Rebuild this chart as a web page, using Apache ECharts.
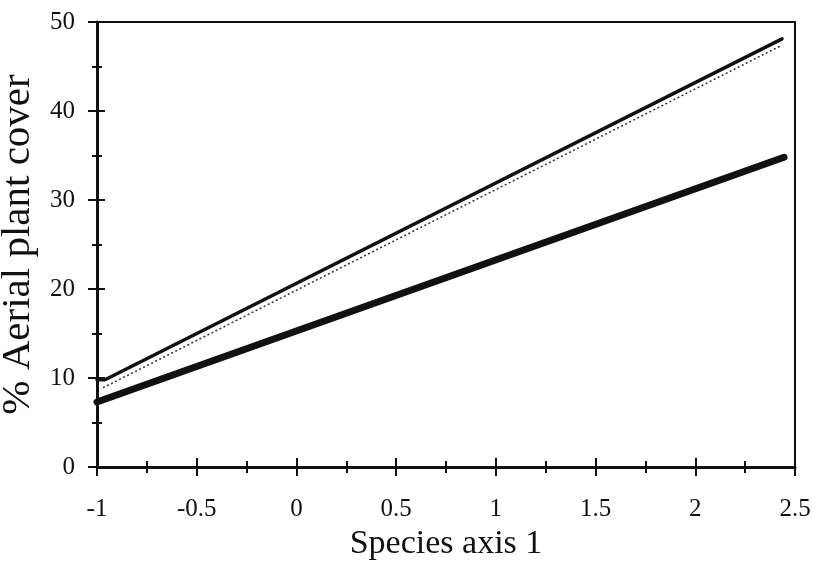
<!DOCTYPE html>
<html>
<head>
<meta charset="utf-8">
<script src="https://cdn.jsdelivr.net/npm/echarts@6/dist/echarts.min.js"></script>
<style>
  html, body { margin: 0; padding: 0; background: #fff; }
  #chart { width: 814px; height: 572px; }
</style>
</head>
<body>
<div id="chart"></div>
<script>
// Fitted cover lines along species axis 1
const upperLine = [[-1, 9.8], [-0.96, 9.8], [2.435, 48.1]];
const dottedLine = [[-0.97, 8.9], [2.435, 47.4]];
const thickLine = [[-1, 7.3], [2.445, 34.8]];

const xTitle = 'Species axis 1';
const yTitle = '% Aerial plant cover';

const font = "'Liberation Serif', 'Times New Roman', serif";
const ink = '#111';

const chart = echarts.init(document.getElementById('chart'));

const xBase = {
  type: 'value', min: -1, max: 2.5, interval: 0.5, position: 'bottom',
  splitLine: { show: false }
};
const yBase = {
  type: 'value', min: 0, max: 50, interval: 10, position: 'left',
  splitLine: { show: false }
};

chart.setOption({
  animation: false,
  backgroundColor: '#fff',
  grid: {
    left: 97, right: 19, top: 22, bottom: 105,
    containLabel: false, outerBoundsMode: 'none',
    show: true, borderColor: ink, borderWidth: 2, backgroundColor: 'transparent'
  },
  xAxis: [
    Object.assign({}, xBase, {
      name: xTitle, nameLocation: 'middle', nameGap: 58,
      nameTextStyle: { fontFamily: font, fontSize: 34, color: ink },
      axisLine: { show: true, onZero: false, lineStyle: { color: ink, width: 3 } },
      axisTick: { show: true, inside: false, length: 9, lineStyle: { color: ink, width: 2 } },
      minorTick: { show: true, splitNumber: 2, length: 6, lineStyle: { color: ink, width: 2 } },
      axisLabel: { fontFamily: font, fontSize: 25, color: ink, margin: 30 }
    }),
    Object.assign({}, xBase, {
      axisLine: { show: false, onZero: false },
      axisTick: { show: true, inside: true, length: 9, lineStyle: { color: ink, width: 2 } },
      minorTick: { show: true, splitNumber: 2, length: 6, lineStyle: { color: ink, width: 2 } },
      axisLabel: { show: false }
    })
  ],
  yAxis: [
    Object.assign({}, yBase, {
      name: yTitle, nameLocation: 'middle', nameGap: 53, nameRotate: 90,
      nameTextStyle: { fontFamily: font, fontSize: 41, color: ink },
      axisLine: { show: true, onZero: false, lineStyle: { color: ink, width: 3 } },
      axisTick: { show: true, inside: false, length: 9, lineStyle: { color: ink, width: 2 } },
      minorTick: { show: true, splitNumber: 2, length: 5, lineStyle: { color: ink, width: 2 } },
      axisLabel: { fontFamily: font, fontSize: 25, color: ink, margin: 22 }
    }),
    Object.assign({}, yBase, {
      axisLine: { show: false, onZero: false },
      axisTick: { show: true, inside: true, length: 8, lineStyle: { color: ink, width: 2 } },
      minorTick: { show: true, splitNumber: 2, length: 5, lineStyle: { color: ink, width: 2 } },
      axisLabel: { show: false }
    })
  ],
  series: [
    {
      type: 'line', data: thickLine, showSymbol: false, symbol: 'none',
      lineStyle: { color: ink, width: 7, cap: 'round' }, z: 3
    },
    {
      type: 'line', data: upperLine, showSymbol: false, symbol: 'none',
      lineStyle: { color: ink, width: 3.5, cap: 'round' }, z: 3
    },
    {
      type: 'line', data: dottedLine, showSymbol: false, symbol: 'none',
      lineStyle: { color: '#333', width: 1.5, type: [2, 2.5] }, z: 2
    }
  ]
});
</script>
</body>
</html>
